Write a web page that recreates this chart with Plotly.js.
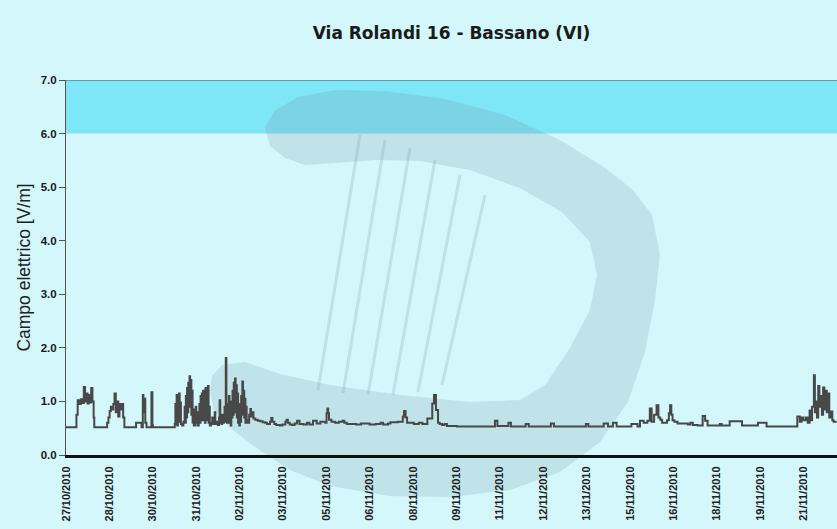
<!DOCTYPE html>
<html>
<head>
<meta charset="utf-8">
<script src="https://cdn.plot.ly/plotly-3.0.1.min.js"></script>
<style>html,body{margin:0;padding:0;background:#d3f7fa;}#chart{width:837px;height:529px;}</style>
</head>
<body>
<div id="chart"></div>
<script>
// Hours elapsed since 27/10/2010 00:00 (sample times)
const hours = [
  0, 8, 8.5, 9.5, 11, 12, 13, 14.5, 15.5, 16.5, 17.5, 18.5, 19.5, 20.5, 21.5, 22.5, 23,
  33.5, 34.5, 35.5, 36.5, 37.5, 38.5, 39.5, 40.5, 41.5, 42.5, 43.5, 44.5, 45.5, 46.5, 47.5,
  57, 61.5, 62.5, 63, 63.8, 64.5, 65.5, 69.5, 70.3, 70.8,
  88.5, 89, 89.5, 90, 90.5, 91, 91.5, 92, 92.5, 93, 93.5, 94.5, 95.5, 96.5, 97, 97.5, 98, 98.5, 99, 99.5,
  100, 100.5, 101, 101.5, 102, 102.5, 103, 103.5, 104, 105, 105.5, 106, 106.5, 107, 108, 108.5, 109, 109.5,
  110, 110.5, 111, 111.5, 112, 112.5, 113, 113.5, 114, 114.5, 115, 115.5, 116, 116.5, 117, 118, 119, 119.5,
  120.5, 121, 121.5, 122.5, 123.5, 124.5, 125, 125.5, 126.5, 127, 127.5, 128.5, 129, 129.5, 130, 130.5,
  131, 131.5, 132, 132.5, 133, 133.5, 134, 134.5, 135, 135.5, 136, 136.5, 137, 137.5, 138, 138.5, 139, 139.5,
  140, 140.5, 141, 141.5, 142, 142.5, 143, 143.5, 144, 144.5, 145, 145.5, 146, 146.5, 147, 148, 149, 150,
  150.5, 151.5, 152.5, 154, 156, 158, 160, 162, 163.5, 166, 167, 168, 169.5, 171, 174, 176, 178.5, 179.5,
  180.5, 182, 184, 186, 188, 190, 193, 196, 198, 201, 204, 207, 211, 212, 212.7, 213.3, 214, 216, 219, 222,
  225, 226.5, 228.5, 236, 240, 247, 252, 256, 258, 262, 264, 270, 274, 275, 276.3, 277.5, 283, 287, 290, 294,
  298, 299.4, 301, 302.7, 304, 306, 308, 310, 318, 349, 351, 360, 362, 374, 376.5, 394.5, 397, 423, 425,
  437.5, 441, 445, 448, 460, 465, 467, 470, 473, 475, 476.5, 478.5, 480.5, 482, 483.5, 485, 489, 490.5,
  491.5, 492.5, 493.5, 495, 497.5, 506, 508, 510, 514, 518, 520, 522, 532, 533.5, 540, 550, 563, 570,
  595, 597, 598.5, 600, 602, 603.5, 605, 606, 607, 608.5, 609.3, 610, 611, 612, 613, 614, 615, 616, 617,
  618, 619, 620, 621, 622, 623.5, 624.5, 627
];
// Electric field [V/m]
const field = [
  0.52, 0.52, 0.75, 1.02, 0.95, 1.04, 0.97, 1.27, 1.0, 1.15, 0.96, 1.12, 0.98, 1.25, 1.0, 0.7, 0.52,
  0.6, 0.7, 0.82, 0.9, 0.85, 0.95, 1.15, 0.8, 1.0, 0.72, 0.95, 0.85, 0.95, 0.7, 0.52,
  0.6, 0.52, 1.12, 0.8, 1.05, 0.6, 0.52, 1.17, 0.55, 0.52,
  0.58, 0.95, 0.6, 1.12, 0.55, 1.05, 0.62, 1.15, 0.7, 0.98, 0.58, 0.55, 0.62, 0.9, 0.6, 1.1, 0.7, 1.25, 0.8, 1.35,
  0.9, 1.47, 1.0, 1.4, 0.75, 1.2, 0.6, 0.85, 0.55, 0.65, 0.9, 0.6, 0.8, 0.55, 0.6, 0.95, 0.6, 1.1,
  0.7, 1.15, 0.65, 1.2, 0.75, 1.05, 0.6, 1.25, 0.7, 1.1, 0.65, 1.29, 0.6, 0.9, 0.55, 0.6, 0.7, 0.58,
  0.65, 0.8, 0.58, 0.62, 0.56, 0.7, 1.02, 0.6, 0.58, 0.75, 0.6, 0.65, 0.9, 0.62, 1.81, 0.7,
  0.6, 0.95, 0.65, 1.1, 0.6, 0.85, 0.55, 1.0, 0.7, 1.2, 0.75, 1.35, 0.8, 1.43, 0.9, 1.3, 0.7, 1.15,
  0.6, 0.95, 0.55, 0.8, 0.62, 1.1, 0.75, 1.37, 0.85, 1.2, 0.7, 1.05, 0.6, 0.9, 0.65, 0.6, 0.75, 0.86,
  0.72, 0.8, 0.68, 0.66, 0.64, 0.63, 0.61, 0.6, 0.58, 0.62, 0.69, 0.62, 0.58, 0.56, 0.55, 0.57, 0.62, 0.66,
  0.6, 0.57, 0.56, 0.59, 0.64, 0.58, 0.57, 0.6, 0.57, 0.64, 0.59, 0.62, 0.6, 0.78, 0.87, 0.78, 0.66, 0.62, 0.6, 0.62,
  0.64, 0.6, 0.58, 0.57, 0.59, 0.57, 0.58, 0.6, 0.57, 0.59, 0.61, 0.62, 0.72, 0.82, 0.7, 0.6, 0.58, 0.6, 0.58, 0.68,
  0.96, 1.12, 0.84, 0.6, 0.58, 0.56, 0.58, 0.54, 0.53, 0.64, 0.54, 0.6, 0.53, 0.58, 0.53, 0.59, 0.53, 0.58, 0.53,
  0.59, 0.53, 0.6, 0.53, 0.58, 0.53, 0.64, 0.6, 0.64, 0.87, 0.62, 0.75, 0.93, 0.7, 0.66, 0.6, 0.65, 0.78,
  0.93, 0.75, 0.65, 0.62, 0.59, 0.57, 0.6, 0.56, 0.55, 0.73, 0.64, 0.55, 0.58, 0.55, 0.63, 0.55, 0.6, 0.53,
  0.72, 0.62, 0.7, 0.65, 0.7, 0.6, 0.83, 0.65, 0.9, 1.49, 0.8, 1.0, 0.7, 1.29, 0.9, 1.1, 0.75, 1.26, 0.85,
  1.2, 0.8, 1.15, 0.7, 0.81, 0.65, 0.62, 0.62
];
const dateLabels = [
  "27/10/2010", "28/10/2010", "30/10/2010", "31/10/2010", "02/11/2010", "03/11/2010",
  "05/11/2010", "06/11/2010", "08/11/2010", "09/11/2010", "11/11/2010", "12/11/2010",
  "13/11/2010", "15/11/2010", "16/11/2010", "18/11/2010", "19/11/2010", "21/11/2010"
];
const tickStepHours = 35.3;
const limitLow = 6, limitHigh = 7;

// ---- watermark (decorative logo), pixel outline converted to paper coords ----
const PL = 66, PT = 80, PW = 771, PH = 375;
function toPaper(pts) {
  return pts.map((p, i) => (i ? 'L' : 'M') + ((p[0] - PL) / PW).toFixed(4) + ',' + ((PT + PH - p[1]) / PH).toFixed(4)).join(' ') + ' Z';
}
const logoOutline = [
  [210,392],[214,410],[228,426],[255,447],[290,470],[330,486],[390,496],[450,497],[510,490],[560,472],
  [600,442],[628,402],[645,352],[655,300],[660,255],[652,215],[633,190],[605,168],[560,140],[505,115],
  [445,99],[385,91],[335,90],[298,97],[274,111],[265,128],[270,146],[285,158],[305,165],
  [335,163],[375,160],[420,161],[470,170],[520,188],[562,212],[590,242],[597,275],[590,310],[570,348],
  [545,385],[520,400],[470,402],[400,395],[330,385],[280,374],[245,362],[222,365],[212,376]
];
const strings = [
  [[360,135],[318,390]], [[385,140],[343,393]], [[410,148],[368,395]],
  [[435,160],[393,395]], [[460,175],[418,392]], [[485,195],[442,385]]
];
const shapes = [
  {type:'rect', xref:'paper', yref:'y', x0:0, x1:1, y0:limitLow, y1:limitHigh,
   fillcolor:'#7ee6f7', line:{width:0}, layer:'below'},
  {type:'path', xref:'paper', yref:'paper', path: toPaper(logoOutline),
   fillcolor:'rgba(110,140,160,0.19)', line:{width:0}, layer:'below'}
];
strings.forEach(s => shapes.push({type:'path', xref:'paper', yref:'paper',
  path: toPaper(s).replace(' Z',''), line:{color:'rgba(120,150,170,0.22)', width:3}, layer:'below'}));
shapes.push({type:'line', xref:'paper', yref:'y', x0:0, x1:1, y0:limitHigh, y1:limitHigh,
  line:{color:'#555', width:1}, layer:'above'});

const trace = {
  x: hours, y: field, type:'scatter', mode:'lines',
  line:{color:'#484848', width:2, shape:'hv'}, hoverinfo:'skip'
};

const layout = {
  width: 837, height: 529,
  margin: {l:66, r:0, t:80, b:74},
  paper_bgcolor: '#d3f7fa', plot_bgcolor: 'rgba(0,0,0,0)',
  showlegend: false,
  title: {text:'Via Rolandi 16 - Bassano (VI)', x:0.5, xref:'paper', xanchor:'center',
          y: 1 - 33/529, yref:'container', yanchor:'middle',
          font:{family:'DejaVu Sans', size:17, weight:'bold', color:'#1a1a1a'}},
  xaxis: {
    range:[0, 627.3], showgrid:false, zeroline:false,
    showline:true, linecolor:'#111', linewidth:3,
    tickvals: dateLabels.map((_, i) => i * tickStepHours), ticktext: dateLabels,
    tickangle:-90, ticks:'', ticklabelstandoff:4,
    tickfont:{family:'Liberation Sans', size:11, weight:'bold', color:'#222'}
  },
  yaxis: {
    range:[0, 7], dtick:1, tickformat:'.1f', showgrid:false, zeroline:false,
    showline:true, linecolor:'#555', linewidth:1,
    ticks:'outside', ticklen:6, tickcolor:'#555',
    tickfont:{family:'Liberation Sans', size:11.5, weight:'bold', color:'#1a1a1a'},
    title:{text:'Campo elettrico [V/m]', standoff:5,
           font:{family:'Liberation Sans', size:17.5, color:'#222'}}
  },
  shapes: shapes
};
Plotly.newPlot('chart', [trace], layout, {displayModeBar:false, staticPlot:true});
</script>
</body>
</html>
